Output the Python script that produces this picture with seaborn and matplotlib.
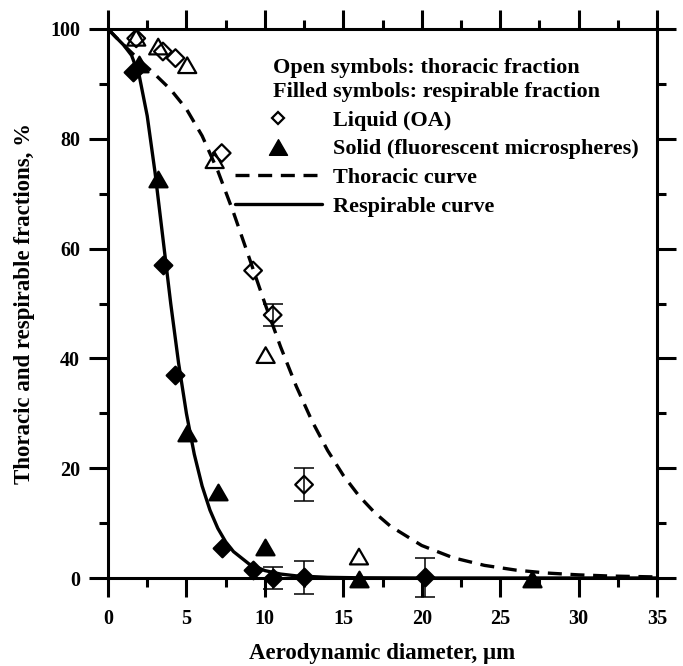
import matplotlib
matplotlib.use("Agg")
import matplotlib.pyplot as plt
from matplotlib.lines import Line2D
from matplotlib.path import Path
from matplotlib.ticker import MultipleLocator
import seaborn as sns

# Convention curves (aerodynamic diameter in um, fraction in %)
thoracic_d = [0, 0.5, 1, 1.5, 2, 2.5, 3, 4, 5, 6, 7, 8, 9, 10, 11, 12, 13, 14,
              15, 16, 17, 18, 20, 22, 24, 26, 28, 30, 32, 35]
thoracic_pct = [100.0, 98.52, 97.09, 95.70, 94.35, 93.04, 91.72, 88.95, 85.42,
                80.54, 74.16, 66.57, 58.33, 50.03, 42.13, 34.94, 28.63, 23.23,
                18.70, 14.96, 11.91, 9.45, 5.92, 3.69, 2.30, 1.44, 0.90, 0.57,
                0.36, 0.19]

respirable_d = [0, 0.5, 1, 1.5, 2, 2.5, 3, 3.5, 4, 4.5, 5, 5.5, 6, 6.5, 7, 7.5,
                8, 9, 10, 11, 12, 14, 16, 20, 25, 30, 35]
respirable_pct = [100.0, 98.52, 97.07, 95.21, 91.38, 84.17, 73.85, 61.92, 49.97,
                  39.14, 29.97, 22.55, 16.76, 12.36, 9.05, 6.60, 4.81, 2.54, 1.35,
                  0.72, 0.39, 0.12, 0.04, 0.0, 0.0, 0.0, 0.0]

# Liquid (OA) aerosol
liquid_thor_d = [1.8, 3.5, 4.3, 7.25, 9.25, 10.5, 12.5]
liquid_thor_pct = [98.3, 95.9, 94.7, 77.4, 56.0, 47.9, 17.0]
liquid_thor_err = [0, 0, 0, 0, 0, 2.0, 3.0]

liquid_resp_d = [1.6, 3.5, 4.3, 7.25, 9.25, 10.5, 12.5, 20.2]
liquid_resp_pct = [92.2, 57.0, 37.0, 5.4, 1.5, 0.0, 0.1, 0.1]
liquid_resp_err = [0, 0, 0, 0, 0, 2.0, 3.0, 3.5]

# Solid (fluorescent microspheres) aerosol
solid_thor_d = [1.8, 3.2, 5.05, 6.8, 10.05, 16.0]
solid_thor_pct = [98.4, 96.8, 93.4, 76.1, 40.6, 3.9]

solid_resp_d = [2.0, 3.2, 5.05, 7.0, 10.0, 16.0, 27.0]
solid_resp_pct = [93.7, 72.7, 26.4, 15.7, 5.7, -0.2, -0.2]

legend_title = "Open symbols: thoracic fraction\nFilled symbols: respirable fraction"
legend_labels = ["Liquid (OA)", "Solid (fluorescent microspheres)",
                 "Thoracic curve", "Respirable curve"]
x_label = "Aerodynamic diameter, \u03bcm"
y_label = "Thoracic and respirable fractions, %"

sns.set_theme(style="ticks", rc={
    "axes.edgecolor": "black", "text.color": "black",
    "axes.labelcolor": "black", "xtick.color": "black", "ytick.color": "black",
})
plt.rcParams["font.family"] = ["Liberation Serif", "DejaVu Serif"]
plt.rcParams["font.weight"] = "bold"
plt.rcParams["axes.labelweight"] = "bold"

TICK_FS = 14.5
LEG_FS = 16
LAB_FS = 16.5
LW = 2.2
DASH = (0, (4.2, 2.6))
# equilateral triangle, closed so the open version gets all three edges
TRI = Path([(-1.0, -0.866), (1.0, -0.866), (0.0, 0.866), (-1.0, -0.866)],
           [Path.MOVETO, Path.LINETO, Path.LINETO, Path.CLOSEPOLY])

fig = plt.figure(figsize=(6.83, 6.66), dpi=100)
ax = fig.add_axes([108 / 683, 88 / 666, 549 / 683, 549 / 666])

sns.lineplot(x=thoracic_d, y=thoracic_pct, ax=ax, color="black", lw=2.4,
             linestyle=DASH, sort=False, estimator=None, zorder=2)
sns.lineplot(x=respirable_d, y=respirable_pct, ax=ax, color="black", lw=2.4,
             sort=False, estimator=None, zorder=2)


def points(xs, ys, marker, size, filled):
    sns.scatterplot(x=xs, y=ys, ax=ax, marker=marker, s=size, color="black",
                    linewidth=1.6, clip_on=False, zorder=4, legend=False)
    coll = ax.collections[-1]
    coll.set_edgecolor("black")
    coll.set_facecolor("black" if filled else "none")
    coll.set_linewidth(1.6)
    coll.set_clip_on(False)


def bars(xs, ys, errs):
    for x, y, e in zip(xs, ys, errs):
        if e > 0:
            ax.errorbar([x], [y], yerr=[e], fmt="none", ecolor="black",
                        elinewidth=1.1, capsize=7, capthick=1.1,
                        clip_on=False, zorder=3)


bars(liquid_thor_d, liquid_thor_pct, liquid_thor_err)
bars(liquid_resp_d, liquid_resp_pct, liquid_resp_err)

points(solid_thor_d, solid_thor_pct, TRI, 169, False)
points(liquid_thor_d, liquid_thor_pct, "D", 81, False)
points(liquid_resp_d, liquid_resp_pct, "D", 81, True)
points(solid_resp_d, solid_resp_pct, TRI, 169, True)

ax.set_xlim(0, 35)
ax.set_ylim(0, 100)
ax.xaxis.set_major_locator(MultipleLocator(5))
ax.xaxis.set_minor_locator(MultipleLocator(2.5))
ax.yaxis.set_major_locator(MultipleLocator(20))
ax.yaxis.set_minor_locator(MultipleLocator(10))
ax.tick_params(which="both", direction="out", top=True, right=True,
               width=LW, color="black")
ax.tick_params(which="major", length=13.5, labelsize=TICK_FS, pad=6.5)
ax.tick_params(axis="x", which="major", pad=8.5)
ax.tick_params(which="minor", length=6.5)
for side in ax.spines.values():
    side.set_linewidth(LW)
    side.set_color("black")
    side.set_visible(True)

ax.set_xlabel(x_label, fontsize=LAB_FS, fontweight="bold")
ax.set_ylabel(y_label, fontsize=LAB_FS, fontweight="bold")
ax.xaxis.set_label_coords(0.5, -0.118)
ax.yaxis.set_label_coords(-0.133, 0.5)

handles = [
    Line2D([], [], marker="D", ms=6.5, mfc="none", mec="black", mew=1.6, ls="none"),
    Line2D([], [], marker=TRI, ms=13, mfc="black", mec="black", ls="none"),
    Line2D([], [], color="black", lw=2.4, ls=DASH),
    Line2D([], [], color="black", lw=2.4),
]
font = {"family": ["Liberation Serif", "DejaVu Serif"], "weight": "bold", "size": LEG_FS}
leg = ax.legend(handles, legend_labels, title=legend_title, loc="upper left",
                bbox_to_anchor=(0.2313, 0.948), frameon=False, borderpad=0,
                borderaxespad=0, handlelength=3.9, handletextpad=0.5,
                labelspacing=0.36, prop=font, title_fontproperties=font)
leg.get_title().set_linespacing(1.32)

fig.savefig("out.png", dpi=100, facecolor="white")
